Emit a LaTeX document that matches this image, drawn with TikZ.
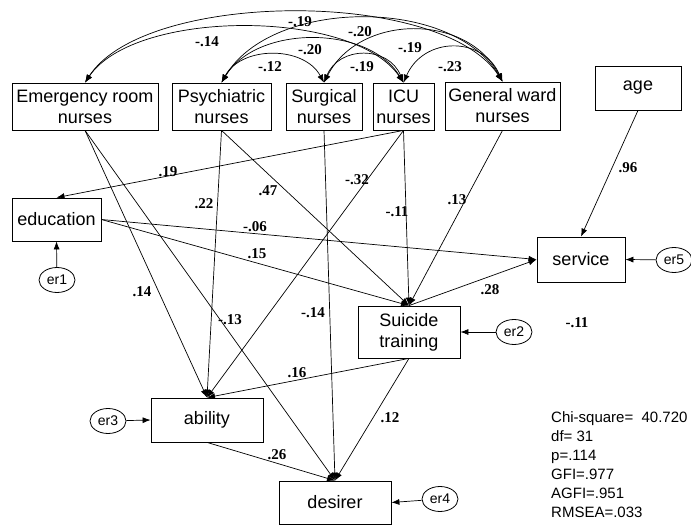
\documentclass[tikz,border=0pt]{standalone}
\usepackage{fontspec}
\setmainfont{Liberation Sans}
\newfontfamily\coeffont{Liberation Serif}
\usetikzlibrary{arrows.meta,shapes.geometric}
\tikzset{
  var/.style={draw, line width=0.8pt, inner sep=0pt, align=center, font=\fontsize{18}{21}\selectfont},
  err/.style={draw, ellipse, line width=0.8pt, minimum width=36pt, minimum height=25pt, inner sep=0pt, font=\fontsize{14}{16}\selectfont},
  coef/.style={inner sep=0pt, font=\coeffont\bfseries\fontsize{15}{17}\selectfont},
  reg/.style={line width=0.7pt, -{Latex[length=8pt,width=6pt]}},
  cov/.style={line width=0.7pt, {Latex[length=8pt,width=6pt]}-{Latex[length=8pt,width=6pt]}},
}
\begin{document}
\begin{tikzpicture}[x=1pt, y=-1pt]
  \useasboundingbox (0,0) rectangle (691,527);
  \node[var, minimum width=146pt, minimum height=47pt] (er)  at (85,106.5)   {Emergency room\\nurses};
  \node[var, minimum width=99pt,  minimum height=47pt] (psy) at (221.5,106.5) {Psychiatric\\nurses};
  \node[var, minimum width=76pt,  minimum height=47pt] (sur) at (324,106.5)  {Surgical\\nurses};
  \node[var, minimum width=61pt,  minimum height=47pt] (icu) at (403.5,106.5) {ICU\\nurses};
  \node[var, minimum width=115pt, minimum height=48pt] (gw)  at (502.5,106)  {General ward\\nurses};
  \node[var, minimum width=86pt,  minimum height=44pt] (age) at (638,88)     {age};
  \node[var, minimum width=89pt,  minimum height=43pt] (edu) at (56.5,219.5) {education};
  \node[var, minimum width=88pt,  minimum height=45pt] (ser) at (581,259.5)  {service};
  \node[var, minimum width=102pt, minimum height=52pt] (st)  at (409,332)    {Suicide\\training};
  \node[var, minimum width=112pt, minimum height=44pt] (abi) at (207,420)    {ability};
  \node[var, minimum width=112pt, minimum height=43pt] (des) at (335,502.5)  {desirer};

  \node[err] (e1) at (57,280)  {er1};
  \node[err] (e2) at (514,332) {er2};
  \node[err] (e3) at (108,421) {er3};
  \node[err] (e4) at (440,499) {er4};
  \node[err] (e5) at (674,260) {er5};

  \draw[cov] (er.north)  .. controls +(60,-93) and +(-60,-93) .. (gw.north);
  \draw[cov] (er.north)  .. controls +(50,-74) and +(-50,-74) .. (icu.north);
  \draw[cov] (psy.north) .. controls +(50,-85) and +(-50,-85) .. (gw.north);
  \draw[cov] (psy.north) .. controls +(35,-58) and +(-35,-58) .. (icu.north);
  \draw[cov] (psy.north) .. controls +(20,-37) and +(-20,-37) .. (sur.north);
  \draw[cov] (sur.north) .. controls +(35,-69) and +(-35,-69) .. (gw.north);
  \draw[cov] (sur.north) .. controls +(15,-37) and +(-15,-37) .. (icu.north);
  \draw[cov] (icu.north) .. controls +(20,-46) and +(-20,-46) .. (gw.north);

  \draw[reg] (er.south)  -- (abi.north);
  \draw[reg] (er.south)  -- (des.north);
  \draw[reg] (psy.south) -- (abi.north);
  \draw[reg] (psy.south) -- (st.north);
  \draw[reg] (sur.south) -- (des.north);
  \draw[reg] (icu.south) -- (edu.north);
  \draw[reg] (icu.south) -- (abi.north);
  \draw[reg] (icu.south) -- (st.north);
  \draw[reg] (gw.south)  -- (st.north);
  \draw[reg] (age.south) -- (ser.north);
  \draw[reg] (edu.east)  -- (ser.west);
  \draw[reg] (edu.east)  -- (st.north);
  \draw[reg] (st.north)  -- (ser.west);
  \draw[reg] (st.south)  -- (abi.north);
  \draw[reg] (st.south)  -- (des.north);
  \draw[reg] (abi.south) -- (des.north);
  \draw[reg] (e1) -- (edu.south);
  \draw[reg] (e2) -- (st.east);
  \draw[reg] (e3) -- (abi.west);
  \draw[reg] (e4) -- (des.east);
  \draw[reg] (e5) -- (ser.east);

  \node[coef] (c1)  at (300,22)  {-.19};
  \node[coef] (c2)  at (207,42)  {-.14};
  \node[coef] (c3)  at (360,32)  {-.20};
  \node[coef] (c4)  at (310,50)  {-.20};
  \node[coef] (c5)  at (270,67)  {-.12};
  \node[coef] (c6)  at (362,67)  {-.19};
  \node[coef] (c7)  at (410,48)  {-.19};
  \node[coef] (c8)  at (450,67)  {-.23};
  \node[coef] (c9)  at (168,172) {.19};
  \node[coef] (c10) at (204,204) {.22};
  \node[coef] (c11) at (268,191) {.47};
  \node[coef] (c12) at (357,180) {-.32};
  \node[coef] (c13) at (397,212) {-.11};
  \node[coef] (c14) at (457,200) {.13};
  \node[coef] (c15) at (628,168) {.96};
  \node[coef] (c16) at (255,227) {-.06};
  \node[coef] (c17) at (257,254) {.15};
  \node[coef] (c18) at (142,292) {.14};
  \node[coef] (c19) at (230,320) {-.13};
  \node[coef] (c20) at (313,313) {-.14};
  \node[coef] (c21) at (490,290) {.28};
  \node[coef] (c22) at (577,323) {-.11};
  \node[coef] (c23) at (297,373) {.16};
  \node[coef] (c24) at (390,418) {.12};
  \node[coef] (c25) at (277,455) {.26};

  \node[anchor=north west, inner sep=0pt, align=left, font=\fontsize{15}{19}\selectfont] (fit) at (551,411)
    {Chi-square=\ \ 40.720\\df= 31\\p=.114\\GFI=.977\\AGFI=.951\\RMSEA=.033};
\end{tikzpicture}
\end{document}
